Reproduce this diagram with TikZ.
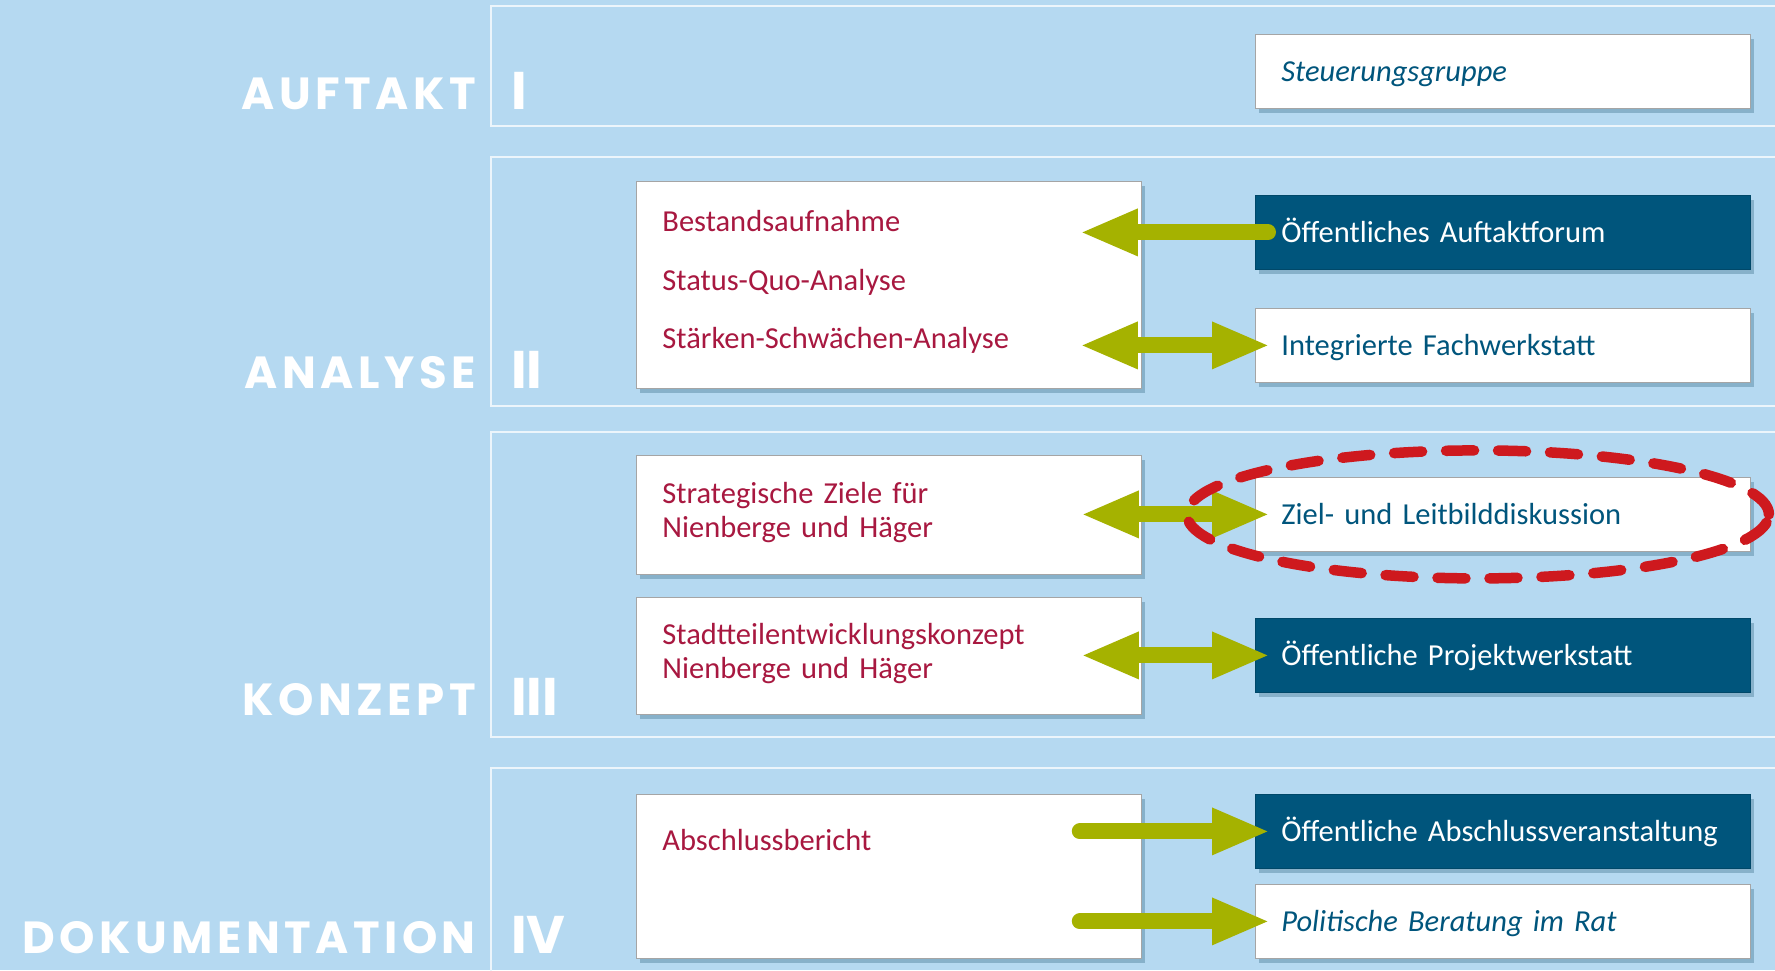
\documentclass[tikz,border=0pt]{standalone}
\usepackage{fontspec}
\setmainfont{Carlito}
\newfontfamily\headfont[LetterSpace=10]{Poppins}
\newfontfamily\numfont{Poppins}
\usepackage{xcolor}
\usepackage{tikz}
\usetikzlibrary{arrows.meta, positioning, shadows, calc}
\definecolor{skyblue}{RGB}{181, 217, 241}
\definecolor{petrol}{RGB}{0, 85, 124}
\definecolor{crimson}{RGB}{168, 24, 64}
\definecolor{olivegreen}{RGB}{165, 178, 0}
\definecolor{ringred}{RGB}{206, 25, 30}
\definecolor{framegray}{RGB}{165, 165, 165}
\tikzset{
  phaseframe/.style={draw=white!75!skyblue, line width=1.5pt},
  phaselabel/.style={anchor=base east, inner sep=0pt, text=white, font=\headfont\bfseries\fontsize{45}{45}\selectfont},
  phasenum/.style={anchor=base west, inner sep=0pt, text=white, font=\numfont\fontsize{53}{53}\selectfont},
  taskbox/.style={draw=framegray, line width=0.8pt, fill=white, anchor=north west, text width=453pt, inner xsep=26pt, align=left, text=crimson, font=\fontsize{30.5}{34}\selectfont, drop shadow={shadow xshift=4pt, shadow yshift=-5pt, opacity=0.25, fill=petrol!70!black}},
  eventbox/.style={taskbox, text width=443pt, text height=47pt, text depth=27pt, inner ysep=0pt, text=petrol},
  forumbox/.style={eventbox, fill=petrol, draw=petrol!85!black, text=white},
  flow/.style={draw=olivegreen, line width=16pt, line cap=round, -{Triangle[length=58pt, width=43pt]}},
  twoway/.style={flow, {Triangle[length=58pt, width=43pt]}-{Triangle[length=58pt, width=43pt]}},
  ring/.style={draw=ringred, line width=10.5pt, line cap=round, dash pattern=on 28pt off 24pt}
}
\begin{document}
\begin{tikzpicture}[x=1pt, y=-1pt]
  \fill[skyblue] (0,0) rectangle (1775,970);
  \useasboundingbox (0,0) rectangle (1775,970);

  \draw[phaseframe] (491,6) rectangle (1790,126);
  \draw[phaseframe] (491,157) rectangle (1790,406);
  \draw[phaseframe] (491,432) rectangle (1790,737);
  \draw[phaseframe] (491,768) rectangle (1790,990);

  \node[phaselabel] (auftakt) at (476,109) {AUFTAKT};
  \node[phasenum] (numi) at (511,109) {\bfseries I};
  \node[phaselabel] (analysis) at (476,388) {ANALYSE};
  \node[phasenum] (numii) at (511,388) {\bfseries II};
  \node[phaselabel] (concept) at (476,715) {KONZEPT};
  \node[phasenum] (numiii) at (511,715) {\bfseries III};
  \node[phaselabel] (doku) at (476,953) {DOKUMENTATION};
  \node[phasenum] (numiv) at (511,953) {\bfseries IV};

  \node[eventbox, font=\itshape\fontsize{30.5}{34}\selectfont] (steuerung) at (1255,34) {Steuerungsgruppe};
  \node[forumbox] (auftaktforum) at (1255,195) {Öffentliches Auftaktforum};
  \node[eventbox] (fachwerkstatt) at (1255,308) {Integrierte Fachwerkstatt};
  \node[eventbox] (leitbild) at (1255,477) {Ziel- und Leitbilddiskussion};
  \node[forumbox] (projektwerkstatt) at (1255,618) {Öffentliche Projektwerkstatt};
  \node[forumbox] (abschluss) at (1255,794) {Öffentliche Abschlussveranstaltung};
  \node[eventbox, font=\itshape\fontsize{30.5}{34}\selectfont] (rat) at (1255,884) {Politische Beratung im Rat};

  \node[taskbox, minimum height=207pt, font=\fontsize{30.5}{58.5}\selectfont] (analyse) at (636,181)
    {Bestandsaufnahme\\Status-Quo-Analyse\\Stärken-Schwächen-Analyse\vspace{6pt}};
  \node[taskbox, minimum height=119pt] (ziele) at (636,455) {Strategische Ziele für\\Nienberge und Häger\vspace{5pt}};
  \node[taskbox, minimum height=117pt] (konzept) at (636,597) {Stadtteilentwicklungskonzept\\Nienberge und Häger\vspace{5pt}};
  \node[taskbox, text height=56pt, text depth=108pt, inner ysep=0pt] (bericht) at (636,794) {Abschlussbericht};

  \draw[flow] ($(auftaktforum.west)+(13,0)$) -- ($(auftaktforum.west -| analyse.east)+(-62,0)$);
  \draw[twoway] ($(fachwerkstatt.west -| analyse.east)+(-62,0)$) -- ($(fachwerkstatt.west)+(15,0)$);
  \draw[twoway] ($(leitbild.west -| ziele.east)+(-61,0)$) -- ($(leitbild.west)+(15,0)$);
  \draw[twoway] ($(projektwerkstatt.west -| konzept.east)+(-61,0)$) -- ($(projektwerkstatt.west)+(15,0)$);
  \draw[flow] ($(abschluss.west -| bericht.east)+(-62,0)$) -- ($(abschluss.west)+(15,0)$);
  \draw[flow] ($(rat.west -| bericht.east)+(-62,0)$) -- ($(rat.west)+(15,0)$);

  \draw[ring] ($(leitbild.center)+(-25,0)$) ellipse [x radius=291pt, y radius=64pt];
\end{tikzpicture}
\end{document}
